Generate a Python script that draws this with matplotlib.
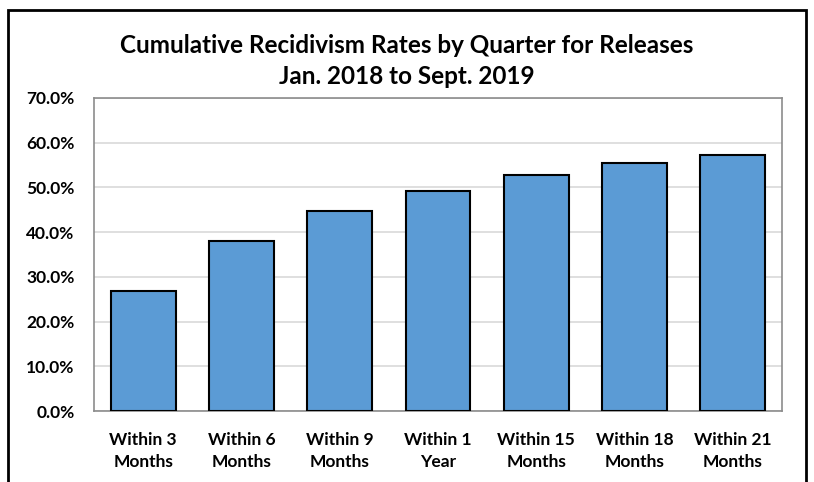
import matplotlib
matplotlib.use("Agg")
import matplotlib.pyplot as plt
from matplotlib.patches import Rectangle

categories = ["Within 3\nMonths", "Within 6\nMonths", "Within 9\nMonths", "Within 1\nYear",
              "Within 15\nMonths", "Within 18\nMonths", "Within 21\nMonths"]
rates = [26.9, 38.0, 44.8, 49.2, 52.7, 55.4, 57.3]
yticks = [0, 10, 20, 30, 40, 50, 60, 70]
title = "Cumulative Recidivism Rates by Quarter for Releases\nJan. 2018 to Sept. 2019"

plt.rcParams['font.family'] = ['Lato', 'DejaVu Sans']

fig = plt.figure(figsize=(8.14, 4.82), dpi=100)
ax = fig.add_axes([94/814, 1-411/482, 688/814, 313/482])

x = range(len(categories))
ax.bar(x, rates, width=0.66, color="#5B9BD5", edgecolor="black", linewidth=1.5, zorder=3)
ax.set_xlim(-0.5, len(categories) - 0.5)
ax.set_ylim(0, 70)
ax.set_yticks(yticks)
ax.set_yticklabels([f"{v:.1f}%" for v in yticks], fontsize=12.5, fontweight="bold")
ax.set_xticks(list(x))
ax.set_xticklabels(categories, fontsize=12.5, fontweight="bold", linespacing=1.45)
ax.tick_params(axis="both", length=0)
ax.tick_params(axis="y", pad=14)
ax.tick_params(axis="x", pad=15)
ax.grid(axis="y", color="#D9D9D9", linewidth=1.2, zorder=0)
for s in ax.spines.values():
    s.set_color("#8C8C8C")
    s.set_linewidth(1.2)

fig.text(0.5, 1-61/482, title, ha="center", va="center", fontsize=17.5, fontweight="bold",
         linespacing=1.45)

fig.patches.append(Rectangle((8/814, -0.1), 798/814, 1.1 - 10/482, transform=fig.transFigure,
                             fill=False, edgecolor="black", linewidth=2))

fig.savefig("out.png", dpi=100)
